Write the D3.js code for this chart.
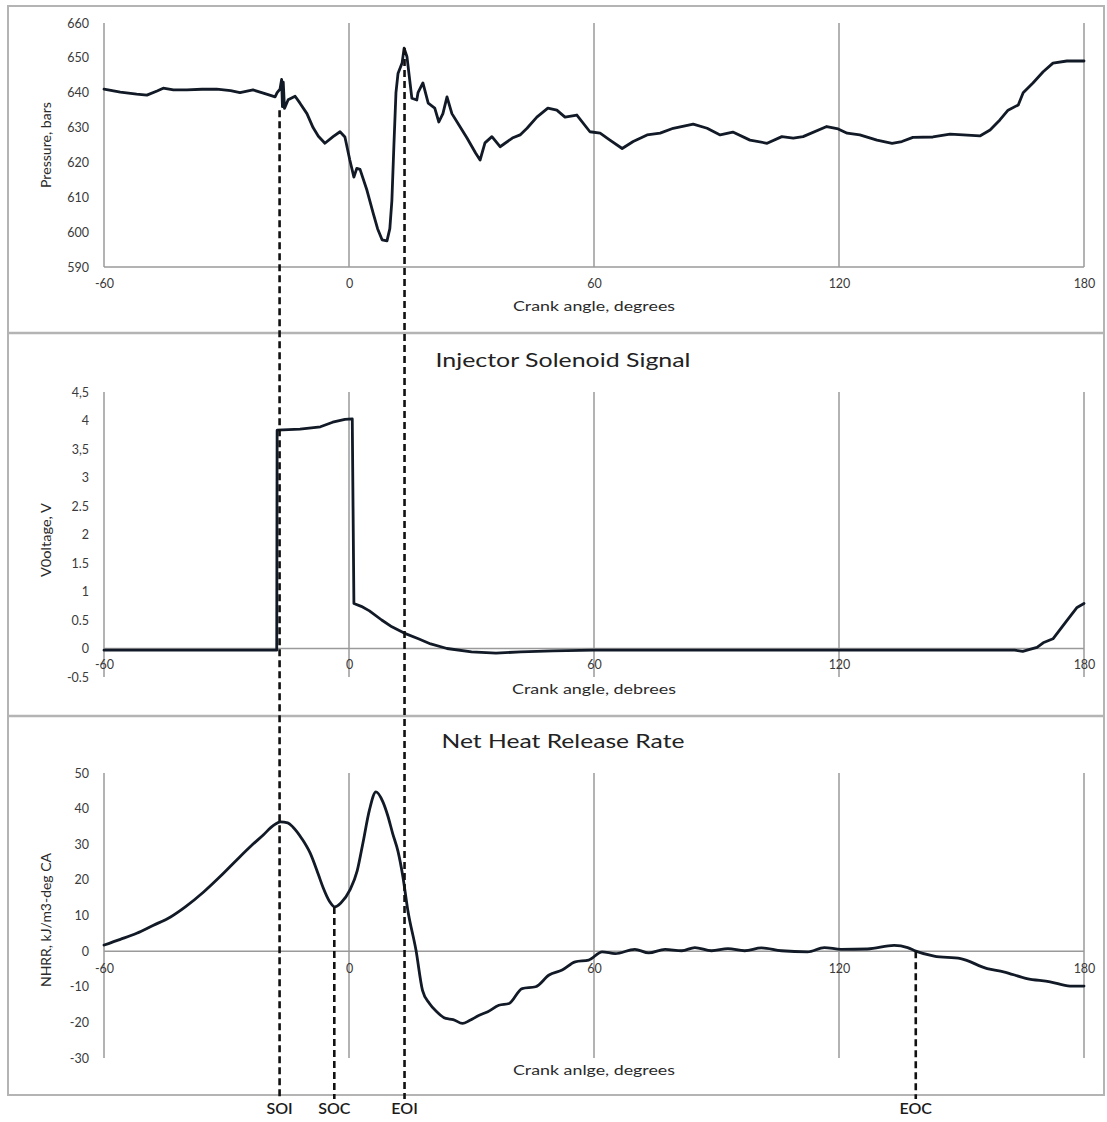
<!DOCTYPE html>
<html>
<head>
<meta charset="utf-8">
<script src="https://cdn.jsdelivr.net/npm/d3@7"></script>
<style>
  html, body { margin: 0; padding: 0; background: #fff; }
  svg { display: block; }
  text { font-family: Lato, "Open Sans", sans-serif; }
</style>
</head>
<body>
<svg id="chart" width="1107" height="1122"></svg>
<script>
// ---------------- DATA ----------------
const xTicks = [-60, 0, 60, 120, 180];
const xTickLabels = ["-60", "0", "60", "120", "180"];

// Panel 1: rail pressure
const pressureAngle = [-60,-56,-52,-49.5,-47,-45.5,-43,-39.7,-36,-32.4,-29,-26.7,-23.5,-20,-18.1,-17.6,-16.9,-16.5,-16.3,-16.1,-15.8,-14.9,-13.2,-12,-10.3,-8.8,-7.5,-5.9,-3.9,-2.2,-1,0.2,1.2,1.9,2.7,4.4,5.9,7,8.1,9.3,10,10.5,11,11.5,12,13,13.5,14.2,15.4,16.6,16.9,18.1,19.4,21,22,23,24,25.2,26.7,28.9,31,32.1,33.3,35,37,40,41.9,43.6,46,48.7,50.9,52.9,55.8,59,61.5,63.9,66.9,69.6,73,76.2,79.4,84.3,87.7,90.9,94,98.2,102.4,106,108.8,111.2,117,119.8,122,125.1,129.3,133,135.4,138.1,143,147.2,150.4,154.5,157,159.4,161.4,163.9,165.1,167.5,170,172.4,175.8,180];
const pressureValue = [641,640.2,639.6,639.3,640.5,641.3,640.8,640.8,641,641,640.6,640,640.8,639.5,638.8,640,641,643.8,636,643,635.5,638,639,637,634,630,627.5,625.5,627.4,628.8,627.3,620.7,615.8,618.3,618,612,605.5,601,597.8,597.5,601,609,625,640,645.5,648.5,652.8,650.3,638.4,637.9,640,642.8,637,635.6,631.6,634,638.8,634,631.2,627,622.7,620.7,625.6,627.4,624.5,627,627.9,629.8,633,635.6,635,633,633.6,628.8,628.4,626.4,624,626,627.9,628.4,629.8,631,629.8,627.9,628.7,626.4,625.5,627.4,627,627.4,630.3,629.6,628.4,627.9,626.4,625.5,626,627.2,627.3,628.1,627.9,627.6,629.3,632.2,635,636.5,640,642.8,646,648.5,649.1,649.1];
const pressureTicks = [590, 600, 610, 620, 630, 640, 650, 660];
const pressureTickLabels = ["590", "600", "610", "620", "630", "640", "650", "660"];

// Panel 2: injector solenoid voltage
const voltageAngle = [-60,-17.7,-17.6,-12,-7,-4,-1,0.8,1.2,3,5,8,10.5,13.5,17,20,24,30,36,42,50,60,100,140,163,165,166.5,168.5,170,172.4,175.8,178.3,180];
const voltageValue = [-0.03,-0.03,3.83,3.85,3.89,3.97,4.02,4.03,0.79,0.74,0.66,0.5,0.38,0.27,0.17,0.08,0.0,-0.06,-0.08,-0.06,-0.04,-0.03,-0.03,-0.03,-0.03,-0.05,-0.02,0.02,0.1,0.17,0.49,0.72,0.79];
const voltageTicks = [-0.5, 0, 0.5, 1, 1.5, 2, 2.5, 3, 3.5, 4, 4.5];
const voltageTickLabels = ["-0.5", "0", "0.5", "1", "1.5", "2", "2.5", "3", "3,5", "4", "4,5"];

// Panel 3: net heat release rate
const nhrrAngle = [-60,-56,-52,-48,-43.7,-40,-35.6,-31.5,-27.5,-24,-21,-18.5,-16.8,-15,-13.7,-11.5,-9.5,-7.5,-6.3,-4.8,-3.5,-2,0.2,2,3.4,5,6.6,8.3,9.5,10.7,12,13.2,14.4,16.4,18,19.7,21.5,23.7,25.5,27.8,29.5,31.9,34,36.7,39.2,42.4,45.7,49,52.2,55.4,58.7,62,65.2,70,73.4,77.4,81.5,84.7,88.8,92.8,96.9,101,105.9,112.3,116.4,120.5,127,133.5,136.8,138.8,143.3,149.8,156.3,160.3,166,171.7,176.6,180];
const nhrrValue = [1.7,3.3,5,7.2,9.6,12.5,16.6,21,25.6,29.5,32.6,35.3,36.3,36,34.8,31.5,27.5,21.5,17.7,14,12.4,13.5,17.1,22.5,30.3,39.6,44.7,41.9,38,33,28,20.9,11.5,0.3,-11,-14.7,-17,-18.9,-19.2,-20.3,-19.5,-18,-17,-15.2,-14.7,-10.5,-10,-6.7,-5.3,-3,-2.5,-0.2,-0.7,0.5,-0.5,0.5,0.1,1,0.1,0.7,0.1,0.9,0.1,-0.2,1,0.5,0.6,1.6,1,0,-1.4,-2.1,-4.9,-5.8,-7.7,-8.6,-9.8,-9.8];
const nhrrTicks = [-30, -20, -10, 0, 10, 20, 30, 40, 50];
const nhrrTickLabels = ["-30", "-20", "-10", "0", "10", "20", "30", "40", "50"];

// Event markers
const markerNames = ["SOI", "SOC", "EOI", "EOC"];
const markerAngles = [-17, -3.6, 13.6, 138.8];
const markerStartPanel = ["pressure", "nhrr", "pressure", "nhrr"];
const markerStartValue = [635, 12.4, 652.8, 0];

// ---------------- DRAW ----------------
const svg = d3.select("#chart");
const lineColor = "#111a26";
const gridColor = "#9a9a9a";
const frameColor = "#b4b4b4";

const x = d3.scaleLinear().domain([-60, 180]).range([104, 1084]);

const panels = {
  pressure: {
    y: d3.scaleLinear().domain([590, 660]).range([267, 23]),
    baseValue: 590, ticks: pressureTicks, tickLabels: pressureTickLabels,
    xLabelOffset: 23, xTitle: "Crank angle, degrees", xTitleY: 311, xTitleLen: 162,
    yTitle: "Pressure, bars", yTitleCenter: 145, yTitleLen: 86,
    title: null
  },
  voltage: {
    y: d3.scaleLinear().domain([-0.5, 4.5]).range([677, 392]),
    baseValue: 0, ticks: voltageTicks, tickLabels: voltageTickLabels,
    xLabelOffset: 23, xTitle: "Crank angle, debrees", xTitleY: 694, xTitleLen: 164,
    yTitle: "V0oltage, V", yTitleCenter: 540, yTitleLen: 74,
    title: "Injector Solenoid Signal", titleY: 367, titleLen: 255
  },
  nhrr: {
    y: d3.scaleLinear().domain([-30, 50]).range([1058, 773]),
    baseValue: 0, ticks: nhrrTicks, tickLabels: nhrrTickLabels,
    xLabelOffset: 24, xTitle: "Crank anlge, degrees", xTitleY: 1075, xTitleLen: 162,
    yTitle: "NHRR, kJ/m3-deg CA", yTitleCenter: 920, yTitleLen: 134,
    title: "Net Heat Release Rate", titleY: 748, titleLen: 243
  }
};

// frame
const frame = svg.append("g");
frame.append("rect").attr("x", 8).attr("y", 6).attr("width", 1096).attr("height", 1089)
  .attr("fill", "none").attr("stroke", frameColor).attr("stroke-width", 2);
[333, 716].forEach(yy => frame.append("line").attr("x1", 8).attr("x2", 1104)
  .attr("y1", yy).attr("y2", yy).attr("stroke", frameColor).attr("stroke-width", 2.5));

function drawPanel(p) {
  const g = svg.append("g");
  const [yBottom, yTop] = p.y.range();
  g.selectAll("line.grid").data(xTicks).join("line")
    .attr("x1", d => x(d)).attr("x2", d => x(d))
    .attr("y1", yTop).attr("y2", yBottom)
    .attr("stroke", gridColor).attr("stroke-width", 1.5);
  g.append("line").attr("x1", x(-60)).attr("x2", x(180))
    .attr("y1", p.y(p.baseValue)).attr("y2", p.y(p.baseValue))
    .attr("stroke", gridColor).attr("stroke-width", 1.5);
  const yAxis = d3.axisLeft(p.y).tickValues(p.ticks).tickSize(0).tickPadding(0)
    .tickFormat((d, i) => p.tickLabels[i]);
  const ya = g.append("g").attr("transform", `translate(${x(-60) - 15},0)`).call(yAxis);
  ya.select(".domain").remove();
  ya.selectAll("text").attr("font-size", 12.5).attr("fill", "#3a3a3a").attr("font-family", "Lato, sans-serif");
  const xAxis = d3.axisBottom(x).tickValues(xTicks).tickSize(0).tickPadding(0)
    .tickFormat((d, i) => xTickLabels[i]);
  const xa = g.append("g").attr("transform", `translate(0,${p.y(p.baseValue) + p.xLabelOffset - 12})`).call(xAxis);
  xa.select(".domain").remove();
  xa.selectAll("text").attr("font-size", 12.5).attr("fill", "#3a3a3a").attr("dy", 0).attr("y", 0)
    .attr("dominant-baseline", "hanging").attr("font-family", "Lato, sans-serif");
  g.append("text").attr("x", x(60)).attr("y", p.xTitleY).attr("text-anchor", "middle")
    .attr("font-size", 13).attr("fill", "#2a2a2a")
    .attr("textLength", p.xTitleLen).attr("lengthAdjust", "spacingAndGlyphs")
    .text(p.xTitle);
  g.append("text").attr("transform", `translate(51,${p.yTitleCenter}) rotate(-90)`)
    .attr("text-anchor", "middle").attr("font-size", 13).attr("fill", "#2a2a2a")
    .attr("textLength", p.yTitleLen).attr("lengthAdjust", "spacingAndGlyphs")
    .text(p.yTitle);
  if (p.title) {
    g.append("text").attr("x", 563).attr("y", p.titleY).attr("text-anchor", "middle")
      .attr("font-size", 19).attr("fill", "#222")
      .attr("textLength", p.titleLen).attr("lengthAdjust", "spacingAndGlyphs")
      .text(p.title);
  }
}
Object.values(panels).forEach(drawPanel);

function drawSeries(panel, xs, ys, curve) {
  const pts = xs.map((a, i) => [a, ys[i]]);
  const line = d3.line().x(d => x(d[0])).y(d => panel.y(d[1])).curve(curve);
  svg.append("path").attr("d", line(pts)).attr("fill", "none")
    .attr("stroke", lineColor).attr("stroke-width", 2.8)
    .attr("stroke-linejoin", "round").attr("stroke-linecap", "round");
}
drawSeries(panels.pressure, pressureAngle, pressureValue, d3.curveLinear);
drawSeries(panels.voltage, voltageAngle, voltageValue, d3.curveLinear);
drawSeries(panels.nhrr, nhrrAngle, nhrrValue, d3.curveMonotoneX);

const markerBottom = 1099;
markerNames.forEach((name, i) => {
  const mx = x(markerAngles[i]);
  const y0 = panels[markerStartPanel[i]].y(markerStartValue[i]);
  svg.append("line").attr("x1", mx).attr("x2", mx).attr("y1", y0).attr("y2", markerBottom)
    .attr("stroke", "#111").attr("stroke-width", 2.6).attr("stroke-dasharray", "7,4");
  svg.append("text").attr("x", mx).attr("y", 1114).attr("text-anchor", "middle")
    .attr("font-size", 16).attr("font-weight", 600).attr("fill", "#1a1a1a").text(name);
});
</script>
</body>
</html>
